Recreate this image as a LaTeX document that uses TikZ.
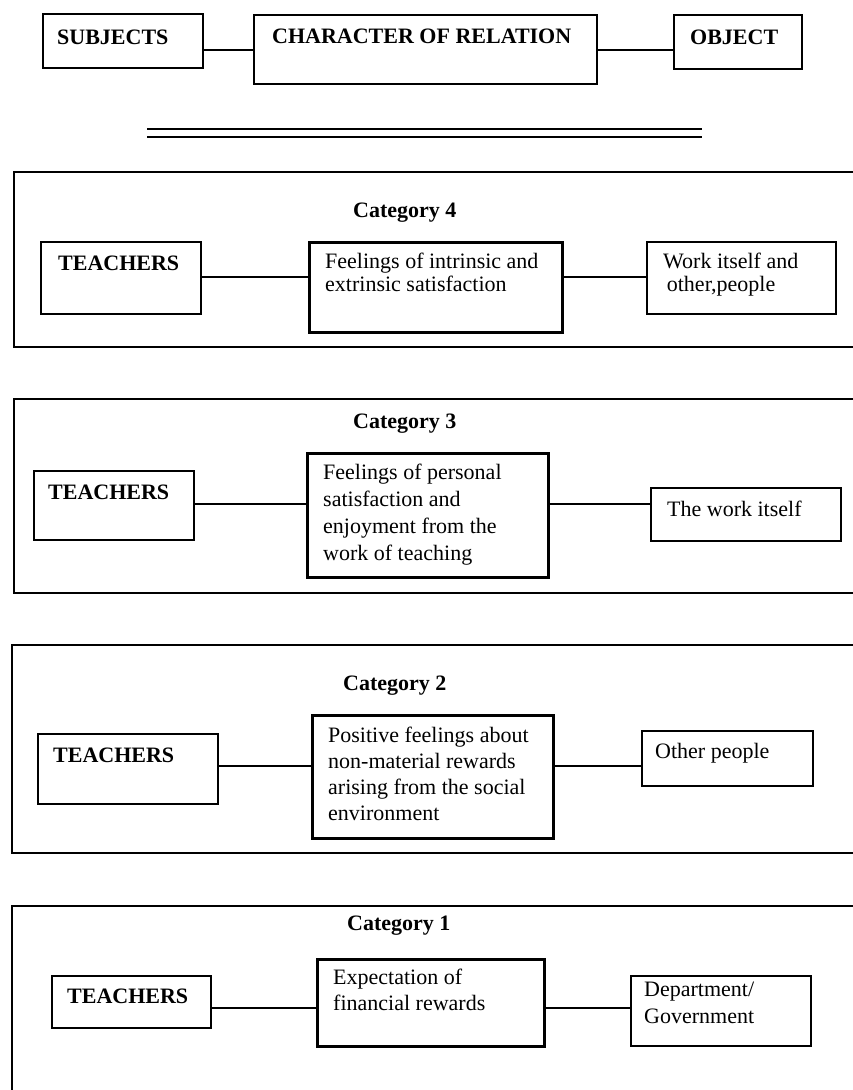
\documentclass[tikz,border=0pt]{standalone}
\usepackage{fontspec}
\setmainfont{Liberation Serif}
\begin{document}
\begin{tikzpicture}[x=1pt,y=-1pt,
  box/.style={draw=black, line width=1.9pt, inner sep=0pt, anchor=north west},
  midbox/.style={box, line width=3.2pt},
  frame/.style={draw=black, line width=1.8pt},
  lbl/.style={anchor=north west, inner sep=0pt, align=left,
    font=\fontsize{22}{26}\selectfont, execute at begin node=\strut},
  hdr/.style={lbl, font=\fontsize{22}{26}\selectfont\bfseries},
  link/.style={draw=black, line width=1.8pt}]
\useasboundingbox (0,0) rectangle (853,1090);
\clip (0,0) rectangle (853,1090);

% ---------- header row ----------
\node[box, minimum width=160pt, minimum height=54pt] (sub) at (42,13) {};
\node[box, minimum width=343pt, minimum height=69pt] (cor) at (253,14) {};
\node[box, minimum width=128pt, minimum height=54pt] (obj) at (673,14) {};
\node[hdr] (subT) at (57,26) {SUBJECTS};
\node[hdr] (corT) at (272,25) {CHARACTER OF RELATION};
\node[hdr] (objT) at (690,26) {OBJECT};
\coordinate (y0) at (0,50);
\draw[link] (sub.east |- y0) -- (cor.west |- y0);
\draw[link] (cor.east |- y0) -- (obj.west |- y0);

% double rule
\coordinate (dla) at (147,129); \coordinate (dlb) at (702,129);
\coordinate (dlc) at (147,137); \coordinate (dld) at (702,137);
\draw[link] (dla) -- (dlb);
\draw[link] (dlc) -- (dld);

% ---------- Category 4 ----------
\draw[frame] (14,172) rectangle (900,347);
\node[hdr] (c4) at (353,199) {Category 4};
\node[box, minimum width=160pt, minimum height=72pt] (t4) at (40,241) {};
\node[midbox, minimum width=253pt, minimum height=90pt] (f4) at (308,241) {};
\node[box, minimum width=189pt, minimum height=72pt] (w4) at (646,241) {};
\node[hdr] (t4T) at (58,252) {TEACHERS};
\node[lbl, font=\fontsize{22}{23}\selectfont] (f4T) at (325,253) {Feelings of intrinsic and\\extrinsic satisfaction};
\node[lbl, font=\fontsize{22}{23}\selectfont] (w4T) at (663,253) {Work itself and\\\,other,people};
\coordinate (y4) at (0,277);
\draw[link] (t4.east |- y4) -- (f4.west |- y4);
\draw[link] (f4.east |- y4) -- (w4.west |- y4);

% ---------- Category 3 ----------
\draw[frame] (14,399) rectangle (900,593);
\node[hdr] (c3) at (353,410) {Category 3};
\node[box, minimum width=160pt, minimum height=69pt] (t3) at (33,470) {};
\node[midbox, minimum width=241pt, minimum height=124pt] (f3) at (306,452) {};
\node[box, minimum width=190pt, minimum height=53pt] (w3) at (650,487) {};
\node[hdr] (t3T) at (48,481) {TEACHERS};
\node[lbl, font=\fontsize{22}{27}\selectfont] (f3T) at (323,464) {Feelings of personal\\satisfaction and\\enjoyment from the\\work of teaching};
\node[lbl] (w3T) at (667,498) {The work itself};
\coordinate (y3) at (0,504);
\draw[link] (t3.east |- y3) -- (f3.west |- y3);
\draw[link] (f3.east |- y3) -- (w3.west |- y3);

% ---------- Category 2 ----------
\draw[frame] (12,645) rectangle (900,853);
\node[hdr] (c2) at (343,672) {Category 2};
\node[box, minimum width=180pt, minimum height=70pt] (t2) at (37,733) {};
\node[midbox, minimum width=241pt, minimum height=123pt] (f2) at (311,714) {};
\node[box, minimum width=171pt, minimum height=55pt] (w2) at (641,730) {};
\node[hdr] (t2T) at (53,744) {TEACHERS};
\node[lbl] (f2T) at (328,727) {Positive feelings about\\non-material rewards\\arising from the social\\environment};
\node[lbl] (w2T) at (655,740) {Other people};
\coordinate (y2) at (0,766);
\draw[link] (t2.east |- y2) -- (f2.west |- y2);
\draw[link] (f2.east |- y2) -- (w2.west |- y2);

% ---------- Category 1 ----------
\draw[frame] (12,906) rectangle (900,1120);
\node[hdr] (c1) at (347,912) {Category 1};
\node[box, minimum width=159pt, minimum height=52pt] (t1) at (51,975) {};
\node[midbox, minimum width=227pt, minimum height=87pt] (f1) at (316,958) {};
\node[box, minimum width=180pt, minimum height=70pt] (w1) at (630,975) {};
\node[hdr] (t1T) at (67,985) {TEACHERS};
\node[lbl] (f1T) at (333,969) {Expectation of\\financial rewards};
\node[lbl, font=\fontsize{22}{27}\selectfont] (w1T) at (644,982) {Department/\\Government};
\coordinate (y1) at (0,1008);
\draw[link] (t1.east |- y1) -- (f1.west |- y1);
\draw[link] (f1.east |- y1) -- (w1.west |- y1);
\end{tikzpicture}
\end{document}
